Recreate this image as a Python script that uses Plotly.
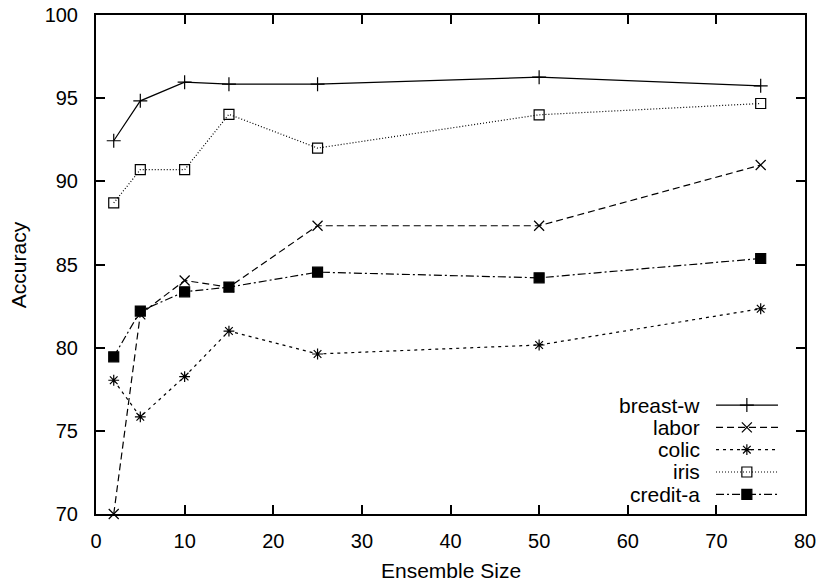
import plotly.graph_objects as go

ensemble_size = [2, 5, 10, 15, 25, 50, 75]
series_names = ["breast-w", "labor", "colic", "iris", "credit-a"]
breast_w = [92.44, 94.84, 95.96, 95.84, 95.84, 96.26, 95.74]
labor = [70.0, 82.0, 84.04, 83.64, 87.33, 87.33, 90.98]
colic = [78.04, 75.84, 78.26, 81.0, 79.62, 80.16, 82.34]
iris = [88.70, 90.70, 90.70, 94.03, 92.0, 94.0, 94.68]
credit_a = [79.45, 82.2, 83.36, 83.64, 84.54, 84.2, 85.36]
x_ticks = [0, 10, 20, 30, 40, 50, 60, 70, 80]
y_ticks = [70, 75, 80, 85, 90, 95, 100]

values = [breast_w, labor, colic, iris, credit_a]
styles = [
    dict(dash="solid", symbol="cross-thin-open", size=10),
    dict(dash="7px,4px", symbol="x-thin-open", size=10),
    dict(dash="3px,4px", symbol="asterisk-open", size=9),
    dict(dash="1px,2px", symbol="square-open", size=10),
    dict(dash="8px,3px,2px,3px", symbol="square", size=10),
]

FONT = "Liberation Sans, Arial, sans-serif"
FS_TICK = 20
FS = 21

fig = go.Figure()
for name, vals, st in zip(series_names, values, styles):
    fig.add_trace(go.Scatter(
        x=ensemble_size, y=vals, name=name, mode="lines+markers",
        line=dict(color="black", width=1.2, dash=st["dash"]),
        marker=dict(color="black", symbol=st["symbol"], size=st["size"],
                    line=dict(color="black", width=1.2)),
        cliponaxis=False, showlegend=False,
    ))

# custom gnuplot-style key (text on the left, sample on the right)
key_rows = [0.2182, 0.1735, 0.1289, 0.0842, 0.0395]
key_x0, key_xm, key_x1 = 0.8745, 0.918, 0.9619
annotations = []
for name, st, ky in zip(series_names, styles, key_rows):
    fig.add_trace(go.Scatter(
        x=[key_x0, key_x1], y=[ky, ky], mode="lines", xaxis="x2", yaxis="y2",
        line=dict(color="black", width=1.2, dash=st["dash"]),
        showlegend=False, hoverinfo="skip", cliponaxis=False,
    ))
    fig.add_trace(go.Scatter(
        x=[key_xm], y=[ky], mode="markers", xaxis="x2", yaxis="y2",
        marker=dict(color="black", symbol=st["symbol"], size=st["size"],
                    line=dict(color="black", width=1.2)),
        showlegend=False, hoverinfo="skip", cliponaxis=False,
    ))
    annotations.append(dict(
        text=name, xref="paper", yref="paper", x=0.8547, y=ky,
        xanchor="right", yanchor="middle", showarrow=False,
        font=dict(family=FONT, size=FS, color="black"),
    ))

annotations.append(dict(
    text="Ensemble Size", xref="paper", yref="paper", x=0.5, y=-0.113,
    xanchor="center", yanchor="middle", showarrow=False,
    font=dict(family=FONT, size=FS, color="black"),
))
annotations.append(dict(
    text="Accuracy", xref="paper", yref="paper", x=-0.109, y=0.5,
    xanchor="center", yanchor="middle", textangle=-90, showarrow=False,
    font=dict(family=FONT, size=FS, color="black"),
))

axis_common = dict(
    showline=True, linecolor="black", linewidth=2, mirror="allticks",
    ticks="inside", ticklen=9, tickwidth=1.5, tickcolor="black",
    showgrid=False, zeroline=False, automargin=False,
    tickfont=dict(family=FONT, size=FS_TICK, color="black"),
)

fig.update_layout(
    width=820, height=582,
    margin=dict(l=96, r=15, t=15, b=68, autoexpand=False),
    paper_bgcolor="white", plot_bgcolor="white",
    xaxis=dict(range=[0, 80], tickvals=x_ticks, ticklabelstandoff=8, **axis_common),
    yaxis=dict(range=[70, 100], tickvals=y_ticks, ticklabelstandoff=12, **axis_common),
    xaxis2=dict(overlaying="x", range=[0, 1], visible=False),
    yaxis2=dict(overlaying="y", range=[0, 1], visible=False),
    annotations=annotations,
    showlegend=False,
)

fig.write_html("out.html", config={"displayModeBar": False},
               post_script="document.body.style.margin='0';")
